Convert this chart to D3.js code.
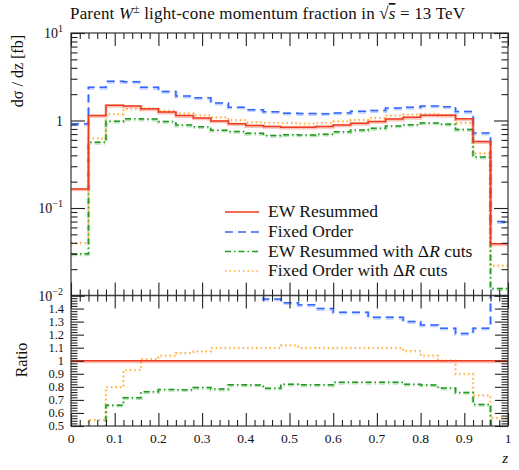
<!DOCTYPE html>
<html><head><meta charset="utf-8">
<script src="https://cdn.jsdelivr.net/npm/d3@7"></script>
<style>
body{margin:0;background:#fff;}
text{font-family:"Liberation Serif","DejaVu Serif",serif;fill:#111;}
</style></head>
<body><svg id="c" width="519" height="470"></svg>
<script>
// ---- data ----
const binEdges = [0.00,0.04,0.08,0.12,0.16,0.20,0.24,0.28,0.32,0.36,0.40,0.44,0.48,0.52,0.56,0.60,0.64,0.68,0.72,0.76,0.80,0.84,0.88,0.92,0.96,1.00];
const ewResummed = [0.165,1.14,1.49,1.46,1.36,1.25,1.14,1.07,0.99,0.92,0.875,0.855,0.84,0.84,0.855,0.89,0.93,0.975,1.04,1.09,1.15,1.15,1.045,0.574,0.039];
const fixedOrder = [0.92,2.4,2.8,2.78,2.4,2.15,1.9,1.82,1.58,1.42,1.33,1.26,1.214,1.20,1.197,1.221,1.276,1.30,1.386,1.417,1.466,1.437,1.264,0.7175,0.07];
const ewResummedCuts = [0.03,0.563,0.983,1.047,1.038,0.975,0.887,0.85,0.775,0.75,0.713,0.675,0.689,0.685,0.697,0.743,0.777,0.814,0.868,0.894,0.937,0.909,0.791,0.382,0.012];
const fixedOrderCuts = [0.04,0.625,1.19,1.358,1.378,1.30,1.21,1.148,1.089,1.012,0.9625,0.94,0.939,0.924,0.94,0.979,1.023,1.0725,1.144,1.173,1.196,1.153,0.94,0.422,0.022];
const seriesNames = ["EW Resummed","Fixed Order","EW Resummed with \u0394R cuts","Fixed Order with \u0394R cuts"];
const mainMajorTicks = [0.01,0.1,1,10];
const ratioTicks = [0.5,0.6,0.7,0.8,0.9,1,1.1,1.2,1.3,1.4];
const xTicks = [0,0.1,0.2,0.3,0.4,0.5,0.6,0.7,0.8,0.9,1];
const xTickLabels = ["0","0.1","0.2","0.3","0.4","0.5","0.6","0.7","0.8","0.9","1"];

// ---- layout ----
const L=71,R=508,T=33,MB=295.5,RB=426;
const svg=d3.select("#c");
const x=d3.scaleLinear().domain([0,1]).range([L,R]);
const y=d3.scaleLog().domain([0.01,10]).range([MB,T]);
const yr=d3.scaleLinear().domain([0.5,1.5]).range([RB,MB]);

const styles=[
 {c:"#ee3a1f",dash:null,w:1.5},
 {c:"#3366ff",dash:"8,5",w:1.5},
 {c:"#1f9a1f",dash:"6,3,1.5,3",w:1.5},
 {c:"#ffaa33",dash:"1.5,3",w:1.5}
];
const data=[ewResummed,fixedOrder,ewResummedCuts,fixedOrderCuts];

const defs=svg.append("defs");
defs.append("clipPath").attr("id","cm").append("rect").attr("x",L).attr("y",T).attr("width",R-L).attr("height",MB-T);
defs.append("clipPath").attr("id","cr").append("rect").attr("x",L).attr("y",MB).attr("width",R-L).attr("height",RB-MB);

function stepPts(vals){
  const pts=[];
  vals.forEach((v,i)=>{pts.push([binEdges[i],v]);pts.push([binEdges[i+1],v]);});
  return pts;
}
const gm=svg.append("g").attr("clip-path","url(#cm)");
const gr=svg.append("g").attr("clip-path","url(#cr)");
const lineM=d3.line().x(d=>x(d[0])).y(d=>y(d[1]));
const lineR=d3.line().x(d=>x(d[0])).y(d=>yr(d[1]));

[3,2,1,0].forEach(k=>{
  const s=styles[k];
  const pts=stepPts(data[k]);
  const ratio=data[k].map((v,i)=>v/ewResummed[i]);
  const rpts=stepPts(ratio);
  [[gm,lineM,pts],[gr,lineR,rpts]].forEach(([g,ln,p])=>{
    g.append("path").attr("d",ln(p)).attr("fill","none").attr("stroke",s.c).attr("stroke-opacity",0.3)
     .attr("stroke-width",3.2).attr("stroke-dasharray",s.dash).attr("transform","translate(0,0.8)");
    g.append("path").attr("d",ln(p)).attr("fill","none").attr("stroke",s.c).attr("stroke-width",s.w)
     .attr("stroke-dasharray",s.dash);
  });
});

// ---- axes / frames ----
const frameCol="#444";
function frame(y0,y1){
  svg.append("rect").attr("x",L).attr("y",y0).attr("width",R-L).attr("height",y1-y0)
   .attr("fill","none").attr("stroke",frameCol).attr("stroke-width",1.3);
}
frame(T,MB);frame(MB,RB);

function ticks(gen,pos,vals,len){
  const g=svg.append("g").attr("transform",pos)
   .call(gen.tickValues(vals).tickSize(len).tickFormat(""));
  g.select(".domain").remove();
  g.selectAll("line").attr("stroke","#222").attr("stroke-width",1.1);
  return g;
}
const xMinor=d3.range(0,51).map(i=>i/50).filter(v=>Math.abs(v*10-Math.round(v*10))>1e-6);
ticks(d3.axisTop(x),`translate(0,${T})`,xTicks,-13);
ticks(d3.axisTop(x),`translate(0,${T})`,xMinor,-6);
ticks(d3.axisBottom(x),`translate(0,${MB})`,xTicks,-13);
ticks(d3.axisBottom(x),`translate(0,${MB})`,xMinor,-6);
ticks(d3.axisTop(x),`translate(0,${MB})`,xTicks,-13);
ticks(d3.axisTop(x),`translate(0,${MB})`,xMinor,-6);
ticks(d3.axisBottom(x),`translate(0,${RB})`,xTicks,-13);
ticks(d3.axisBottom(x),`translate(0,${RB})`,xMinor,-6);
const yMinor=y.ticks().filter(v=>!mainMajorTicks.some(m=>Math.abs(v/m-1)<1e-6));
ticks(d3.axisLeft(y),`translate(${L},0)`,mainMajorTicks,-14);
ticks(d3.axisLeft(y),`translate(${L},0)`,yMinor,-6.5);
ticks(d3.axisRight(y),`translate(${R},0)`,mainMajorTicks,-14);
ticks(d3.axisRight(y),`translate(${R},0)`,yMinor,-6.5);
const rMinor=d3.range(0,51).map(i=>0.5+i*0.02).filter(v=>Math.abs(v*10-Math.round(v*10))>1e-6);
const rMajor=ratioTicks.concat([1.5]);
ticks(d3.axisLeft(yr),`translate(${L},0)`,rMajor,-13);
ticks(d3.axisLeft(yr),`translate(${L},0)`,rMinor,-6.5);
ticks(d3.axisRight(yr),`translate(${R},0)`,rMajor,-13);
ticks(d3.axisRight(yr),`translate(${R},0)`,rMinor,-6.5);

// ---- labels ----
const expo={0.01:"\u22122",0.1:"\u22121",10:"1"};
mainMajorTicks.forEach(v=>{
  const t=svg.append("text").attr("x",63).attr("y",y(v)+5).attr("text-anchor","end").attr("font-size",14);
  if(v===1){t.text("1");}
  else{t.append("tspan").text("10");t.append("tspan").attr("dy",-6).attr("font-size",10).text(expo[v]);}
});
ratioTicks.forEach(v=>{
  svg.append("text").attr("x",64).attr("y",yr(v)+4).attr("text-anchor","end").attr("font-size",12.5).text(d3.format("")(v));
});
xTicks.forEach((v,i)=>{
  svg.append("text").attr("x",x(v)).attr("y",443).attr("text-anchor","middle").attr("font-size",13.5).text(xTickLabels[i]);
});
svg.append("text").attr("x",R).attr("y",463).attr("text-anchor","end").attr("font-size",15).attr("font-style","italic").text("z");
svg.append("text").attr("transform","translate(23,35) rotate(-90)").attr("text-anchor","end").attr("font-size",16)
  .text("d\u03c3 / dz [fb]");
svg.append("text").attr("transform","translate(27,360) rotate(-90)").attr("text-anchor","middle").attr("font-size",16).text("Ratio");

// title
const tt=svg.append("text").attr("x",70).attr("y",19).attr("font-size",17)
  .attr("textLength",395).attr("lengthAdjust","spacing");
tt.append("tspan").text("Parent ");
tt.append("tspan").attr("font-style","italic").text("W");
tt.append("tspan").attr("dy",-6).attr("font-size",11.5).text("\u00b1");
tt.append("tspan").attr("dy",6).text(" light-cone momentum fraction in \u221a");
tt.append("tspan").attr("font-style","italic").attr("text-decoration","overline").text("s");
tt.append("tspan").text(" = 13 TeV");

// legend
const legY=[212,232,251.5,271];
seriesNames.forEach((n,i)=>{
  const s=styles[i];
  svg.append("line").attr("x1",225).attr("x2",259).attr("y1",legY[i]).attr("y2",legY[i])
    .attr("stroke",s.c).attr("stroke-width",s.w).attr("stroke-dasharray",s.dash);
  const t=svg.append("text").attr("x",268).attr("y",legY[i]+5).attr("font-size",17.5);
  if(n.includes("\u0394R")){
    const parts=n.split("\u0394R");
    t.append("tspan").text(parts[0]+"\u0394");
    t.append("tspan").attr("font-style","italic").text("R");
    t.append("tspan").text(parts[1]);
  } else t.text(n);
});
</script></body></html>
